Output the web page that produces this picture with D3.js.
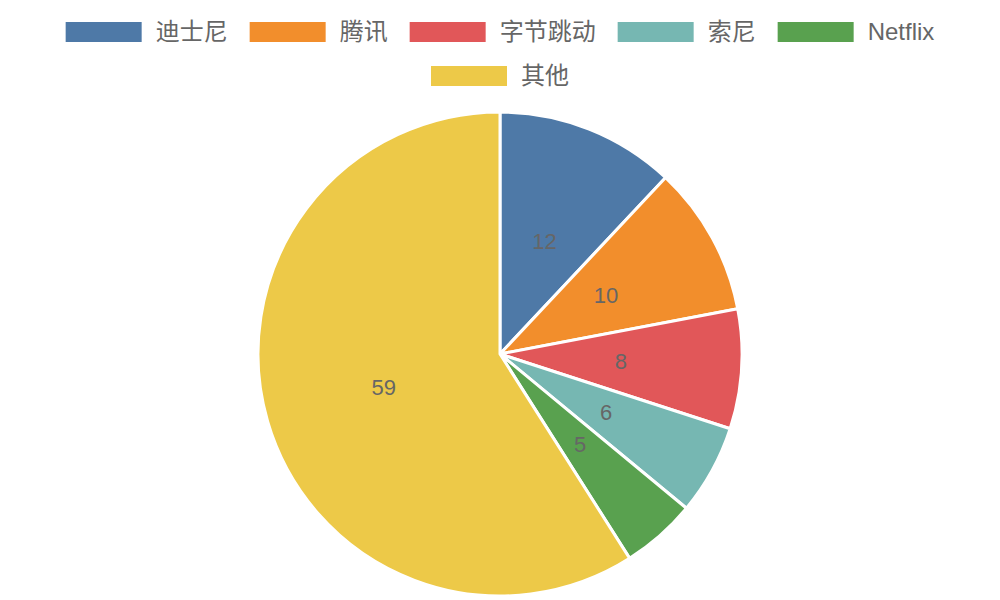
<!DOCTYPE html>
<html>
<head>
<meta charset="utf-8">
<script src="https://cdn.jsdelivr.net/npm/d3@7"></script>
<style>
  body { margin: 0; background: #fff; }
  text { font-family: "Liberation Sans", "Noto Sans CJK SC", sans-serif; }
</style>
</head>
<body>
<script>
const categories = ['迪士尼', '腾讯', '字节跳动', '索尼', 'Netflix', '其他'];
const values = [12, 10, 8, 6, 5, 59];
const colors = ['#4e79a7', '#f28e2c', '#e15759', '#76b7b2', '#59a14f', '#edc948'];

const width = 1000;
const height = 600;
const cx = 500, cy = 354, radius = 242;

const svg = d3.select('body')
  .append('svg')
  .attr('width', width)
  .attr('height', height);

const data = categories.map((c, i) => ({ name: c, value: values[i], color: colors[i] }));

const pie = d3.pie().sort(null).value(d => d.value);
const arc = d3.arc().innerRadius(0).outerRadius(radius);
const labelArc = d3.arc().innerRadius(radius / 2).outerRadius(radius / 2);

const g = svg.append('g').attr('transform', `translate(${cx},${cy})`);

g.selectAll('path.slice')
  .data(pie(data))
  .enter()
  .append('path')
  .attr('class', 'slice')
  .attr('d', arc)
  .attr('fill', d => d.data.color)
  .attr('stroke', '#fff')
  .attr('stroke-width', 3)
  .attr('stroke-linejoin', 'round');

g.selectAll('text.label')
  .data(pie(data))
  .enter()
  .append('text')
  .attr('class', 'label')
  .attr('transform', d => `translate(${labelArc.centroid(d)})`)
  .attr('text-anchor', 'middle')
  .attr('dy', '0.35em')
  .attr('fill', '#666')
  .style('font-size', '22px')
  .text(d => d.data.value);

// Legend (wrapped, centered rows)
const boxW = 76, boxH = 20, textGap = 14, itemGap = 22, fontSize = 24;
const maxRow = 900;
const legend = svg.append('g');

const items = data.map(d => {
  const item = legend.append('g');
  item.append('rect')
    .attr('width', boxW)
    .attr('height', boxH)
    .attr('fill', d.color);
  const t = item.append('text')
    .attr('x', boxW + textGap)
    .attr('y', boxH / 2)
    .attr('dy', '0.35em')
    .attr('fill', '#666')
    .style('font-size', fontSize + 'px')
    .text(d.name);
  return { item, w: boxW + textGap + t.node().getComputedTextLength() };
});

const rows = [[]];
let rowW = 0;
items.forEach(it => {
  const add = (rows[rows.length - 1].length ? itemGap : 0) + it.w;
  if (rowW + add > maxRow && rows[rows.length - 1].length) {
    rows.push([it]);
    rowW = it.w;
  } else {
    rows[rows.length - 1].push(it);
    rowW += add;
  }
});

rows.forEach((row, r) => {
  const total = d3.sum(row, d => d.w) + itemGap * (row.length - 1);
  let x = (width - total) / 2;
  row.forEach(it => {
    it.item.attr('transform', `translate(${x},${22 + r * 44})`);
    x += it.w + itemGap;
  });
});
</script>
</body>
</html>
